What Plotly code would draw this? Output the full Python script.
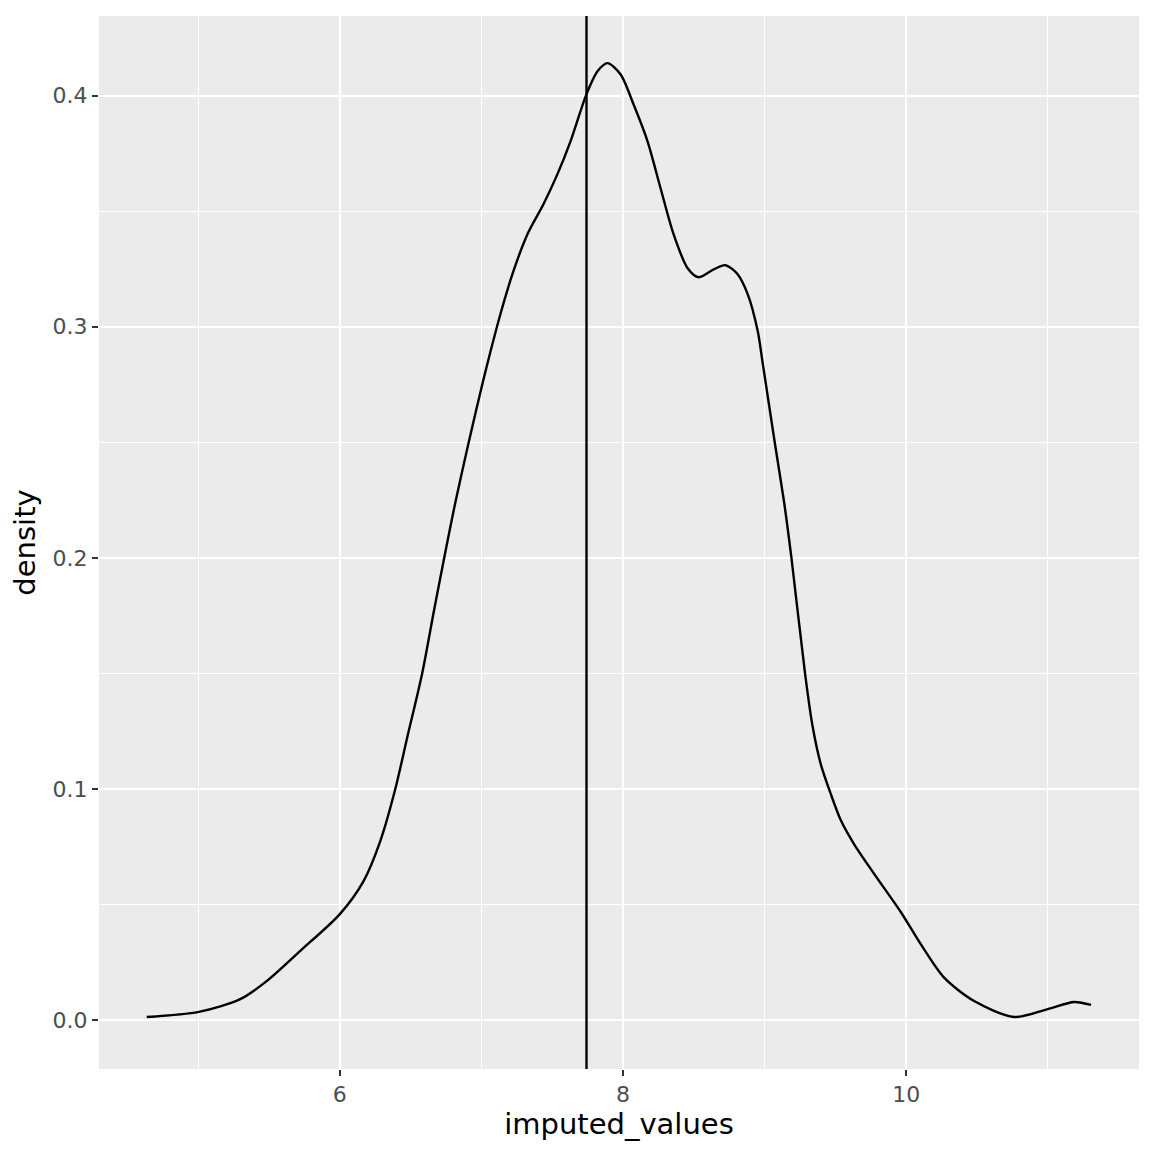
import plotly.graph_objects as go

# density estimate
imputed_values = [4.637, 5.005, 5.297, 5.486, 5.721, 5.999, 6.168, 6.286, 6.392, 6.475,
                  6.581, 6.663, 6.734, 6.816, 6.910, 7.012, 7.134, 7.226, 7.325, 7.438,
                  7.537, 7.629, 7.742, 7.820, 7.890, 7.982, 8.074, 8.173, 8.265, 8.357,
                  8.456, 8.534, 8.640, 8.724, 8.809, 8.880, 8.951, 8.984, 9.071, 9.136,
                  9.189, 9.285, 9.337, 9.396, 9.466, 9.537, 9.631, 9.773, 9.961,
                  10.102, 10.267, 10.479, 10.762, 10.998, 11.186, 11.304]
density = [0.0014, 0.0036, 0.0091, 0.0170, 0.0300, 0.0458, 0.0602, 0.0775, 0.1000, 0.1220,
           0.1498, 0.1765, 0.1990, 0.2240, 0.2499, 0.2765, 0.3054, 0.3240, 0.3400, 0.3530,
           0.3660, 0.3802, 0.4006, 0.4105, 0.4140, 0.4092, 0.3962, 0.3802, 0.3599, 0.3400,
           0.3253, 0.3214, 0.3248, 0.3266, 0.3227, 0.3141, 0.2981, 0.2851, 0.2500, 0.2246,
           0.2000, 0.1500, 0.1276, 0.1108, 0.0980, 0.0866, 0.0762, 0.0633, 0.0468,
           0.0329, 0.0184, 0.0083, 0.0014, 0.0048, 0.0079, 0.0066]
mean_value = 7.742

x_ticks = [6, 8, 10]
x_minor = [5, 7, 9, 11]
y_ticks = [0.0, 0.1, 0.2, 0.3, 0.4]
y_minor = [0.05, 0.15, 0.25, 0.35]

fig = go.Figure()
fig.add_trace(go.Scatter(x=imputed_values, y=density, mode="lines",
                         line=dict(color="black", width=2.4, shape="spline", smoothing=0.8),
                         showlegend=False, hoverinfo="skip"))
fig.add_vline(x=mean_value, line=dict(color="black", width=2.4))

axis_common = dict(showline=False, zeroline=False, ticks="outside", ticklen=6, tickwidth=2,
                   tickcolor="#333333", gridcolor="white", gridwidth=2.4, automargin=False,
                   tickfont=dict(size=22, color="#4d4d4d"),
                   minor=dict(showgrid=True, gridcolor="white", gridwidth=1.2, ticks=""))

fig.update_xaxes(range=[4.300, 11.643], tickmode="array", tickvals=x_ticks,
                 ticktext=[str(v) for v in x_ticks],
                 title=dict(text="imputed_values", font=dict(size=29, color="black"), standoff=4),
                 **axis_common)
fig.update_xaxes(minor_tickvals=x_minor)
fig.update_yaxes(range=[-0.0211, 0.4344], tickmode="array", tickvals=y_ticks,
                 ticktext=["%.1f" % v for v in y_ticks],
                 title=dict(text="density", font=dict(size=29, color="black"), standoff=8),
                 **axis_common)
fig.update_yaxes(minor_tickvals=y_minor)

fig.update_layout(width=1152, height=1152, margin=dict(l=91, r=21, t=8, b=91),
                  paper_bgcolor="white", plot_bgcolor="#EBEBEB",
                  font=dict(family="DejaVu Sans"))

fig.write_html("out.html")
